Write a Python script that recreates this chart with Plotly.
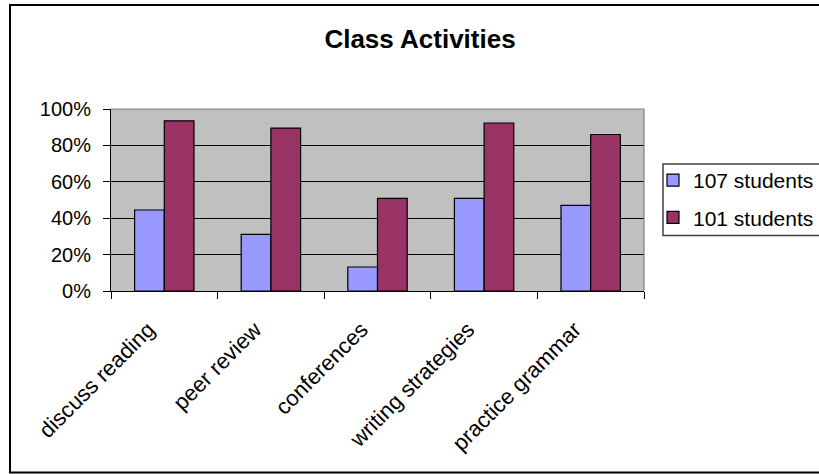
import plotly.graph_objects as go

# Survey results: share of students reporting each class activity
activities = ["discuss reading", "peer review", "conferences",
              "writing strategies", "practice grammar"]
group_107 = [0.445, 0.311, 0.132, 0.509, 0.471]
group_101 = [0.935, 0.895, 0.509, 0.923, 0.860]
series_names = ["107 students", "101 students"]
y_ticks = [0, 0.2, 0.4, 0.6, 0.8, 1.0]

W, H = 819, 474
ML, MR, MT, MB = 111, 175, 109, 183
PW, PH = W - ML - MR, H - MT - MB

FONT = "Liberation Sans, Arial, sans-serif"


def px_x(x):
    return (x - ML) / PW


def px_y(y):
    return (H - MB - y) / PH


fig = go.Figure()
fig.add_trace(go.Bar(
    x=activities, y=group_107, name=series_names[0], legendgroup="a",
    marker=dict(color="#9999FF", line=dict(color="#000000", width=1.2)),
))
fig.add_trace(go.Bar(
    x=activities, y=group_101, name=series_names[1], legendgroup="b",
    marker=dict(color="#993366", line=dict(color="#000000", width=1.2)),
))

shapes = [
    # plot-area border on the top and right sides
    dict(type="path", xref="paper", yref="paper",
         path="M 0,1 L 1,1 L 1,0", line=dict(color="#808080", width=1.2),
         layer="above"),
    # outer chart frame
    dict(type="path", xref="paper", yref="paper",
         path=f"M {px_x(830)},{px_y(5)} L {px_x(10)},{px_y(5)} "
              f"L {px_x(10)},{px_y(472.5)} L {px_x(830)},{px_y(472.5)}",
         line=dict(color="#000000", width=2)),
    # legend frame
    dict(type="path", xref="paper", yref="paper",
         path=f"M {px_x(830)},{px_y(164)} L {px_x(663)},{px_y(164)} "
              f"L {px_x(663)},{px_y(235.5)} L {px_x(830)},{px_y(235.5)}",
         line=dict(color="#404040", width=1.5)),
]

fig.update_layout(
    width=W, height=H,
    margin=dict(l=ML, r=MR, t=MT, b=MB, autoexpand=False),
    paper_bgcolor="#FFFFFF",
    plot_bgcolor="#C0C0C0",
    font=dict(family=FONT, size=20, color="#000000"),
    title=dict(text="<b>Class Activities</b>", x=420 / W, xanchor="center",
               xref="container", y=1 - 38.5 / H, yanchor="middle",
               yref="container", font=dict(size=26, family=FONT)),
    barmode="group",
    bargap=0.443,
    bargroupgap=0,
    showlegend=True,
    legend=dict(x=px_x(653), xanchor="left", y=px_y(160), yanchor="top",
                bgcolor="rgba(0,0,0,0)", borderwidth=0,
                tracegroupgap=7, font=dict(size=21, family=FONT),
                traceorder="grouped"),
    xaxis=dict(showline=True, linecolor="#000000", linewidth=1,
               ticks="outside", ticklen=7, tickcolor="#000000",
               tickson="boundaries", tickangle=-45, showgrid=False,
               ticklabelshift=-16, ticklabelstandoff=16,
               tickfont=dict(size=22, family=FONT)),
    yaxis=dict(range=[0, 1], tickvals=y_ticks, tickformat=".0%",
               showline=True, linecolor="#000000", linewidth=1,
               ticks="outside", ticklen=7, tickcolor="#000000",
               showgrid=True, gridcolor="#000000", gridwidth=1,
               zeroline=False, ticklabelstandoff=8,
               tickfont=dict(size=20, family=FONT)),
    shapes=shapes,
)

fig.write_html("out.html")
